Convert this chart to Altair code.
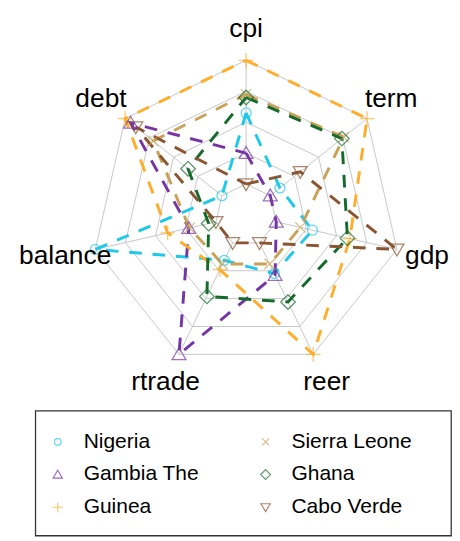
import math
import pandas as pd
import altair as alt

# ---------------- data (normalised 0..1 per axis) ----------------
axes = ["cpi", "term", "gdp", "reer", "rtrade", "balance", "debt"]
countries = ["Nigeria", "Gambia The", "Guinea", "Sierra Leone", "Ghana", "Cabo Verde"]
nigeria = [0.575, 0.10, 0.30, 0.275, 0.156, 1.00, 0.00]
gambia = [0.25, 0.00, 0.00, 0.29, 1.00, 0.225, 0.944]
guinea = [1.00, 1.00, 0.61, 1.00, 0.24, 0.40, 1.00]
sierra = [0.725, 0.76, 0.20, 0.19, 0.19, 0.22, 0.71]
ghana = [0.70, 0.74, 0.59, 0.53, 0.48, 0.06, 0.35]
cabo = [0.00, 0.31, 1.00, 0.00, 0.00, 0.00, 0.89]
series = [nigeria, gambia, guinea, sierra, ghana, cabo]

colors = {"Nigeria": "#1EC8E8", "Gambia The": "#7535A5", "Guinea": "#FFAE2B",
          "Sierra Leone": "#C9A257", "Ghana": "#146B2C", "Cabo Verde": "#8A5530"}
shapes = {
    "Nigeria": "M0.68,0A0.68,0.68,0,1,1,-0.68,0A0.68,0.68,0,1,1,0.68,0Z",
    "Gambia The": "M0,-0.9L0.95,0.72L-0.95,0.72Z",
    "Guinea": "M-1,0L1,0M0,-1L0,1",
    "Sierra Leone": "M-0.72,-0.72L0.72,0.72M-0.72,0.72L0.72,-0.72",
    "Ghana": "M0,-1L1,0L0,1L-1,0Z",
    "Cabo Verde": "M0,0.9L0.95,-0.72L-0.95,-0.72Z",
}
levels = [0.2, 0.4, 0.6, 0.8, 1.0]
legend_rows = 3

# ---------------- tables ----------------
rows = []
for c, vals in zip(countries, series):
    for i in range(len(axes) + 1):
        rows.append({"country": c, "idx": i, "value": vals[i % len(axes)]})
df = pd.DataFrame(rows)

ring_df = pd.DataFrame([{"level": l, "idx": i} for l in levels for i in range(len(axes) + 1)])
spoke_df = pd.DataFrame([{"idx": i, "level": l} for i in range(len(axes)) for l in (levels[0], levels[-1])])
label_df = pd.DataFrame([{"idx": i, "axis": a} for i, a in enumerate(axes)])
leg_df = pd.DataFrame([{"country": c, "col": i // legend_rows, "row": i % legend_rows}
                       for i, c in enumerate(countries)])

N = len(axes)
theta = f"datum.idx * 2 * PI / {N}"

# radar panel geometry (pixels)
W1, H1 = 450, 395
cx, cy, R = 241.0, 205.5, 158.5
xs = alt.Scale(domain=[-cx / R, (W1 - cx) / R], nice=False, zero=False)
ys = alt.Scale(domain=[-(H1 - cy) / R, cy / R], nice=False, zero=False)

color_scale = alt.Scale(domain=countries, range=[colors[c] for c in countries])
shape_scale = alt.Scale(domain=countries, range=[shapes[c] for c in countries])


def polar(ch, rexpr):
    return ch.transform_calculate(
        px=f"({rexpr}) * sin({theta})",
        py=f"({rexpr}) * cos({theta})",
    )


grid_color = "#C6C6C6"
rings = polar(alt.Chart(ring_df), "datum.level").mark_line(
    color=grid_color, strokeWidth=1
).encode(
    x=alt.X("px:Q", scale=xs, axis=None),
    y=alt.Y("py:Q", scale=ys, axis=None),
    detail="level:N",
    order="idx:Q",
)
spokes = polar(alt.Chart(spoke_df), "datum.level").mark_line(
    color=grid_color, strokeWidth=1
).encode(
    x=alt.X("px:Q", scale=xs, axis=None),
    y=alt.Y("py:Q", scale=ys, axis=None),
    detail="idx:N",
    order="level:Q",
)
labels = polar(alt.Chart(label_df), "1.2").mark_text(
    font="Liberation Sans", fontSize=27, color="#000000", align="center", baseline="middle"
).encode(
    x=alt.X("px:Q", scale=xs, axis=None),
    y=alt.Y("py:Q", scale=ys, axis=None),
    text="axis:N",
)

base = polar(alt.Chart(df), "0.2 + 0.8 * datum.value")
lines = base.mark_line(strokeWidth=3, strokeDash=[13, 11], strokeCap="butt").encode(
    x=alt.X("px:Q", scale=xs, axis=None),
    y=alt.Y("py:Q", scale=ys, axis=None),
    color=alt.Color("country:N", scale=color_scale, legend=None),
    detail="country:N",
    order="idx:Q",
)
points = base.transform_filter(f"datum.idx < {N}").mark_point(
    filled=False, size=225, strokeWidth=1.3
).encode(
    x=alt.X("px:Q", scale=xs, axis=None),
    y=alt.Y("py:Q", scale=ys, axis=None),
    color=alt.Color("country:N", scale=color_scale, legend=None),
    shape=alt.Shape("country:N", scale=shape_scale, legend=None),
)

radar = alt.layer(rings, spokes, lines, points, labels).properties(
    width=W1, height=H1, view=alt.ViewBackground(stroke=None)
)

# legend panel (box = the panel's own frame)
W2, H2 = 426, 128
x0, dxc = 23.0, 213.0
y0, dyr = 32.0, 33.5
lx = alt.Scale(domain=[-x0 / dxc, (W2 - x0) / dxc], nice=False, zero=False)
ly = alt.Scale(domain=[-y0 / dyr, (H2 - y0) / dyr], nice=False, zero=False, reverse=True)

leg_base = alt.Chart(leg_df)
leg_pts = leg_base.mark_point(filled=False, size=100, strokeWidth=1.2).encode(
    x=alt.X("col:Q", scale=lx, axis=None),
    y=alt.Y("row:Q", scale=ly, axis=None),
    color=alt.Color("country:N", scale=color_scale, legend=None),
    shape=alt.Shape("country:N", scale=shape_scale, legend=None),
)
leg_txt = leg_base.mark_text(
    font="Liberation Sans", fontSize=21.5, color="#000000", align="left", baseline="middle", dx=26.5
).encode(
    x=alt.X("col:Q", scale=lx, axis=None),
    y=alt.Y("row:Q", scale=ly, axis=None),
    text="country:N",
)
legend_panel = alt.layer(leg_pts, leg_txt).properties(
    width=W2, height=H2, view=alt.ViewBackground(stroke="#333333", strokeWidth=1.3, fill="#FFFFFF")
)

# empty spacer that shifts the legend box to the right
spacer = alt.Chart(leg_df).mark_point(opacity=0).encode(
    x=alt.value(0), y=alt.value(0)
).properties(width=W1 - W2, height=H2, view=alt.ViewBackground(stroke=None))

legend_row = alt.hconcat(spacer, legend_panel, spacing=0)

chart = alt.vconcat(radar, legend_row, spacing=8).properties(
    padding=0
).configure_view(stroke=None)

chart.save("out.html", embed_options={"renderer": "svg", "actions": False})
